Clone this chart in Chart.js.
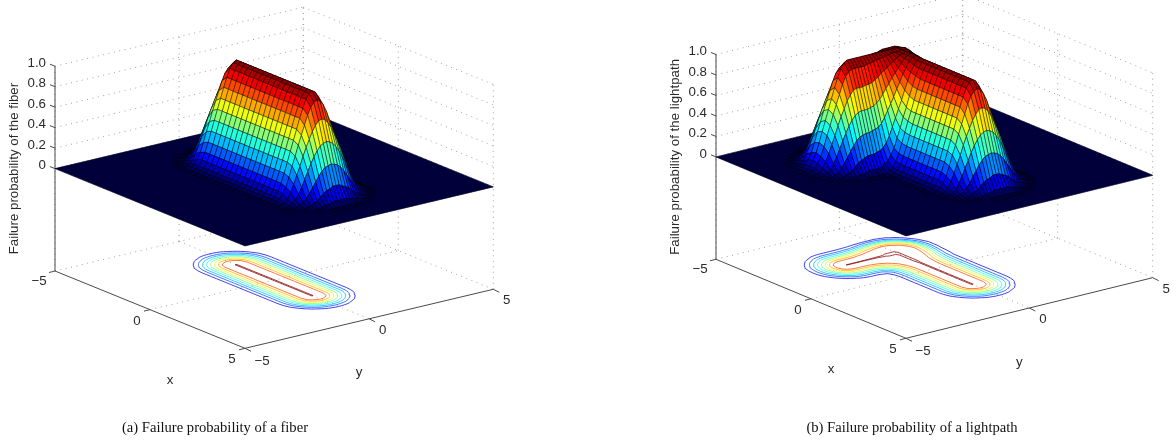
<!DOCTYPE html>
<html>
<head>
<meta charset="utf-8">
<title>Failure probability</title>
<script src="https://cdn.jsdelivr.net/npm/chart.js@4"></script>
<style>
    body { margin: 0; background: #fff; width: 1176px; height: 447px; overflow: hidden; position: relative; }
    canvas { position: absolute; top: 0; }
    #fiberChart { left: 0; }
    #lightpathChart { left: 588px; }
</style>
</head>
<body>
<canvas id="fiberChart" width="588" height="447"></canvas>
<canvas id="lightpathChart" width="588" height="447"></canvas>
<script>
// axis ticks
const xTicks = [-5, 0, 5];
const yTicks = [-5, 0, 5];
const zTicks = [0, 0.2, 0.4, 0.6, 0.8, 1];
const xTickLabels = ['\u22125', '0', '5'];
const yTickLabels = ['\u22125', '0', '5'];
const zTickLabels = ['0', '0.2', '0.4', '0.6', '0.8', '1.0'];
const contourLevels = [0.1, 0.2, 0.3, 0.4, 0.5, 0.6, 0.7, 0.8, 0.995];

// surface columns, the surface is flat at 0 outside the tables below
const gridX = [-3.75, -3.5, -3.25, -3, -2.75, -2.5, -2.25, -2, -1.75, -1.5, -1.25, -1, -0.75, -0.5, -0.25, 0, 0.25, 0.5, 0.75, 1, 1.25, 1.5, 1.75, 2, 2.25, 2.5, 2.75, 3, 3.25, 3.5, 3.75];

// fiber: failure probability in percent, one row per y, first row y = -1.75
const fiberY = [-1.75, -1.625, -1.5, -1.375, -1.25, -1.125, -1, -0.875, -0.75, -0.625, -0.5, -0.375, -0.25, -0.125, 0, 0.125, 0.25, 0.375, 0.5, 0.625, 0.75, 0.875, 1, 1.125, 1.25, 1.375, 1.5, 1.625, 1.75];
const fiberZ = [
    [0,0,0,0,0,1,1,1,1,1,1,1,1,1,1,1,1,1,1,1,1,1,1,1,1,1,0,0,0,0,0],
    [0,0,0,0,1,2,3,3,3,3,3,3,3,3,3,3,3,3,3,3,3,3,3,3,3,2,1,0,0,0,0],
    [0,0,0,1,2,3,5,5,5,5,5,5,5,5,5,5,5,5,5,5,5,5,5,5,5,3,2,1,0,0,0],
    [0,0,0,2,4,6,9,10,10,10,10,10,10,10,10,10,10,10,10,10,10,10,10,10,9,6,4,2,0,0,0],
    [0,0,1,3,6,12,15,17,17,17,17,17,17,17,17,17,17,17,17,17,17,17,17,17,15,12,6,3,1,0,0],
    [0,0,2,5,11,19,24,26,26,26,26,26,26,26,26,26,26,26,26,26,26,26,26,26,24,19,11,5,2,0,0],
    [0,1,3,8,17,27,34,36,36,36,36,36,36,36,36,36,36,36,36,36,36,36,36,36,34,27,17,8,3,1,0],
    [0,1,5,12,24,35,43,46,46,46,46,46,46,46,46,46,46,46,46,46,46,46,46,46,43,35,24,12,5,1,0],
    [0,2,6,17,31,44,53,56,56,56,56,56,56,56,56,56,56,56,56,56,56,56,56,56,53,44,31,17,6,2,0],
    [0,3,9,22,38,52,62,66,66,66,66,66,66,66,66,66,66,66,66,66,66,66,66,66,62,52,38,22,9,3,0],
    [1,3,12,27,44,59,71,76,76,76,76,76,76,76,76,76,76,76,76,76,76,76,76,76,71,59,44,27,12,3,1],
    [1,4,14,31,49,66,80,85,85,85,85,85,85,85,85,85,85,85,85,85,85,85,85,85,80,66,49,31,14,4,1],
    [1,5,15,34,53,71,87,93,93,93,93,93,93,93,93,93,93,93,93,93,93,93,93,93,87,71,53,34,15,5,1],
    [1,5,17,35,55,75,91,98,98,98,98,98,98,98,98,98,98,98,98,98,98,98,98,98,91,75,55,35,17,5,1],
    [1,5,17,36,56,76,93,100,100,100,100,100,100,100,100,100,100,100,100,100,100,100,100,100,93,76,56,36,17,5,1],
    [1,5,17,35,55,75,91,98,98,98,98,98,98,98,98,98,98,98,98,98,98,98,98,98,91,75,55,35,17,5,1],
    [1,5,15,34,53,71,87,93,93,93,93,93,93,93,93,93,93,93,93,93,93,93,93,93,87,71,53,34,15,5,1],
    [1,4,14,31,49,66,80,85,85,85,85,85,85,85,85,85,85,85,85,85,85,85,85,85,80,66,49,31,14,4,1],
    [1,3,12,27,44,59,71,76,76,76,76,76,76,76,76,76,76,76,76,76,76,76,76,76,71,59,44,27,12,3,1],
    [0,3,9,22,38,52,62,66,66,66,66,66,66,66,66,66,66,66,66,66,66,66,66,66,62,52,38,22,9,3,0],
    [0,2,6,17,31,44,53,56,56,56,56,56,56,56,56,56,56,56,56,56,56,56,56,56,53,44,31,17,6,2,0],
    [0,1,5,12,24,35,43,46,46,46,46,46,46,46,46,46,46,46,46,46,46,46,46,46,43,35,24,12,5,1,0],
    [0,1,3,8,17,27,34,36,36,36,36,36,36,36,36,36,36,36,36,36,36,36,36,36,34,27,17,8,3,1,0],
    [0,0,2,5,11,19,24,26,26,26,26,26,26,26,26,26,26,26,26,26,26,26,26,26,24,19,11,5,2,0,0],
    [0,0,1,3,6,12,15,17,17,17,17,17,17,17,17,17,17,17,17,17,17,17,17,17,15,12,6,3,1,0,0],
    [0,0,0,2,4,6,9,10,10,10,10,10,10,10,10,10,10,10,10,10,10,10,10,10,9,6,4,2,0,0,0],
    [0,0,0,1,2,3,5,5,5,5,5,5,5,5,5,5,5,5,5,5,5,5,5,5,5,3,2,1,0,0,0],
    [0,0,0,0,1,2,3,3,3,3,3,3,3,3,3,3,3,3,3,3,3,3,3,3,3,2,1,0,0,0,0],
    [0,0,0,0,0,1,1,1,1,1,1,1,1,1,1,1,1,1,1,1,1,1,1,1,1,1,0,0,0,0,0]
];

// lightpath: failure probability in percent, one row per y, first row y = -3.75
const lightpathY = [-3.75, -3.625, -3.5, -3.375, -3.25, -3.125, -3, -2.875, -2.75, -2.625, -2.5, -2.375, -2.25, -2.125, -2, -1.875, -1.75, -1.625, -1.5, -1.375, -1.25, -1.125, -1, -0.875, -0.75, -0.625, -0.5, -0.375, -0.25, -0.125, 0, 0.125, 0.25, 0.375, 0.5, 0.625, 0.75, 0.875, 1, 1.125, 1.25, 1.375, 1.5, 1.625, 1.75];
const lightpathZ = [
    [0,0,0,0,0,1,1,1,1,1,0,0,0,0,0,0,0,0,0,0,0,0,0,0,0,0,0,0,0,0,0],
    [0,0,0,0,1,2,3,3,3,2,1,0,0,0,0,0,0,0,0,0,0,0,0,0,0,0,0,0,0,0,0],
    [0,0,0,1,2,3,5,5,5,3,2,1,0,0,0,0,0,0,0,0,0,0,0,0,0,0,0,0,0,0,0],
    [0,0,0,2,4,6,9,10,9,6,4,2,0,0,0,0,0,0,0,0,0,0,0,0,0,0,0,0,0,0,0],
    [0,0,1,3,6,12,15,17,15,12,6,3,1,0,0,0,0,0,0,0,0,0,0,0,0,0,0,0,0,0,0],
    [0,0,2,5,11,19,24,26,24,19,11,5,2,0,0,0,0,0,0,0,0,0,0,0,0,0,0,0,0,0,0],
    [0,1,3,8,17,27,34,36,34,27,17,8,3,1,0,0,0,0,0,0,0,0,0,0,0,0,0,0,0,0,0],
    [0,1,5,12,24,35,43,46,43,35,24,12,5,1,0,0,0,0,0,0,0,0,0,0,0,0,0,0,0,0,0],
    [0,2,6,17,31,44,53,56,53,44,31,17,6,2,0,0,0,0,0,0,0,0,0,0,0,0,0,0,0,0,0],
    [0,3,9,22,38,52,62,66,62,52,38,22,9,3,0,0,0,0,0,0,0,0,0,0,0,0,0,0,0,0,0],
    [1,3,12,27,44,59,71,76,71,59,44,27,12,3,1,0,0,0,0,0,0,0,0,0,0,0,0,0,0,0,0],
    [1,4,14,31,49,66,80,85,80,66,49,31,14,4,1,0,0,0,0,0,0,0,0,0,0,0,0,0,0,0,0],
    [1,5,15,34,53,71,87,93,87,71,53,34,15,5,1,0,0,0,0,0,0,0,0,0,0,0,0,0,0,0,0],
    [1,5,17,35,55,75,91,98,91,75,55,35,17,5,1,0,0,0,0,0,0,0,0,0,0,0,0,0,0,0,0],
    [1,5,17,36,56,76,93,100,93,76,56,36,17,5,1,0,0,0,0,0,0,0,0,0,0,0,0,0,0,0,0],
    [1,5,17,36,56,76,93,100,93,76,56,36,17,5,1,0,0,0,0,0,0,0,0,0,0,0,0,0,0,0,0],
    [1,5,17,36,56,76,93,100,93,76,56,37,18,6,2,1,1,1,1,1,1,1,1,1,1,1,0,0,0,0,0],
    [1,5,17,36,56,77,93,100,93,77,57,38,19,8,4,3,3,3,3,3,3,3,3,3,3,2,1,0,0,0,0],
    [1,5,17,37,57,77,93,100,93,77,58,39,21,10,6,5,5,5,5,5,5,5,5,5,5,3,2,1,0,0,0],
    [1,5,17,37,58,77,94,100,94,78,60,42,25,15,11,10,10,10,10,10,10,10,10,10,9,6,4,2,0,0,0],
    [1,5,18,38,59,79,94,100,94,80,63,47,31,21,18,17,17,17,17,17,17,17,17,17,15,12,6,3,1,0,0],
    [1,5,19,39,61,81,95,100,95,82,67,53,39,30,27,26,26,26,26,26,26,26,26,26,24,19,11,5,2,0,0],
    [1,6,19,41,63,82,95,100,96,85,72,59,47,39,37,36,36,36,36,36,36,36,36,36,34,27,17,8,3,1,0],
    [1,6,21,44,67,84,96,100,96,87,76,65,55,49,47,46,46,46,46,46,46,46,46,46,43,35,24,12,5,1,0],
    [1,7,22,47,70,87,97,100,97,89,81,72,63,58,56,56,56,56,56,56,56,56,56,56,53,44,31,17,6,2,0],
    [1,8,24,50,73,88,97,100,98,92,85,78,72,68,66,66,66,66,66,66,66,66,66,66,62,52,38,22,9,3,0],
    [2,8,27,53,75,90,98,100,98,94,89,85,80,77,76,76,76,76,76,76,76,76,76,76,71,59,44,27,12,3,1],
    [2,9,29,56,78,92,99,100,99,96,93,90,88,86,85,85,85,85,85,85,85,85,85,85,80,66,49,31,14,4,1],
    [2,10,29,58,79,93,99,100,99,98,97,96,94,93,93,93,93,93,93,93,93,93,93,93,87,71,53,34,15,5,1],
    [2,10,31,58,80,94,99,100,99,99,99,99,98,98,98,98,98,98,98,98,98,98,98,98,91,75,55,35,17,5,1],
    [2,10,31,59,81,94,99,100,100,100,100,100,100,100,100,100,100,100,100,100,100,100,100,100,93,76,56,36,17,5,1],
    [2,10,31,58,80,94,99,99,99,99,99,99,98,98,98,98,98,98,98,98,98,98,98,98,91,75,55,35,17,5,1],
    [2,10,28,56,78,92,98,99,99,98,97,95,94,93,93,93,93,93,93,93,93,93,93,93,87,71,53,34,15,5,1],
    [2,8,26,52,74,88,96,98,97,95,92,90,87,86,85,85,85,85,85,85,85,85,85,85,80,66,49,31,14,4,1],
    [2,6,23,47,69,83,92,94,93,90,87,82,79,77,76,76,76,76,76,76,76,76,76,76,71,59,44,27,12,3,1],
    [0,6,17,39,62,77,86,88,87,84,79,73,69,67,66,66,66,66,66,66,66,66,66,66,62,52,38,22,9,3,0],
    [0,4,12,31,52,69,78,81,79,75,70,63,59,57,56,56,56,56,56,56,56,56,56,56,53,44,31,17,6,2,0],
    [0,2,10,23,42,58,68,71,69,65,59,52,49,47,46,46,46,46,46,46,46,46,46,46,43,35,24,12,5,1,0],
    [0,2,6,15,31,47,56,59,58,53,47,41,38,37,36,36,36,36,36,36,36,36,36,36,34,27,17,8,3,1,0],
    [0,0,4,10,21,34,42,45,44,40,34,30,27,26,26,26,26,26,26,26,26,26,26,26,24,19,11,5,2,0,0],
    [0,0,2,6,12,23,28,31,29,27,22,19,18,17,17,17,17,17,17,17,17,17,17,17,15,12,6,3,1,0,0],
    [0,0,0,4,8,12,17,19,18,15,14,12,10,10,10,10,10,10,10,10,10,10,10,10,9,6,4,2,0,0,0],
    [0,0,0,2,4,6,10,10,10,8,7,6,5,5,5,5,5,5,5,5,5,5,5,5,5,3,2,1,0,0,0],
    [0,0,0,0,2,4,6,6,6,5,4,3,3,3,3,3,3,3,3,3,3,3,3,3,3,2,1,0,0,0,0],
    [0,0,0,0,0,2,2,2,2,2,1,1,1,1,1,1,1,1,1,1,1,1,1,1,1,1,0,0,0,0,0]
];

const AXIS_COLOR = '#4a4a4a';
const TEXT_COLOR = '#2a2a2a';
const TICK_FONT = '13.3px "Liberation Sans"';
const CAPTION_FONT = '14.6px "Liberation Serif"';

// jet colormap, v in 0..1
function jet(v) {
    const ch = t => Math.round(255 * Math.max(0, Math.min(1, 1.5 - Math.abs(t))));
    return `rgb(${ch(4 * v - 3)},${ch(4 * v - 2)},${ch(4 * v - 1)})`;
}

// the fine mesh makes the foot of the hill read almost as dark as the plane
function cellColor(v) {
    if (v >= 0.12) return jet(v);
    return `rgb(0,0,${Math.round(60 + 190 * v / 0.12)})`;
}

class SurfacePanel {
    constructor(cfg) {
        this.cfg = cfg;
        this.stepX = gridX[1] - gridX[0];
        this.stepY = cfg.y[1] - cfg.y[0];
        this.datasets = [];
    }

    // data space to picture space, z = -1 is the floor of the box
    project(x, y, z) {
        const { origin, ex, ey, zUnit } = this.cfg;
        return {
            x: origin.x + (x + 5) * ex.x + (y + 5) * ey.x,
            y: origin.y + (x + 5) * ex.y + (y + 5) * ey.y - (z + 1) * zUnit
        };
    }

    line(points, style) {
        this.datasets.push(Object.assign({
            data: points, showLine: true, pointRadius: 0, tension: 0, fill: false
        }, style));
    }

    // height at grid corner, 0 outside the table
    height(i, j) {
        const row = this.cfg.z[j];
        if (!row || row[i] === undefined) return 0;
        return row[i] / 100;
    }

    cornerX(i) { return gridX[0] + i * this.stepX; }
    cornerY(j) { return this.cfg.y[0] + j * this.stepY; }

    addGrid() {
        const dotted = { borderColor: '#a0a0a0', borderWidth: 1, borderDash: [1, 4.5] };
        const pts = [];
        const seg = (a, b) => pts.push(this.project(...a), this.project(...b), { x: NaN, y: NaN });
        const levels = [-1].concat(zTicks);
        levels.forEach(z => {
            seg([-5, -5, z], [-5, 5, z]);
            seg([-5, 5, z], [5, 5, z]);
        });
        yTicks.forEach(y => seg([-5, y, -1], [-5, y, 1]));
        xTicks.forEach(x => seg([x, 5, -1], [x, 5, 1]));
        seg([0, -5, -1], [0, 5, -1]);
        seg([-5, 0, -1], [5, 0, -1]);
        this.line(pts, dotted);
    }

    addAxes() {
        const solid = { borderColor: AXIS_COLOR, borderWidth: 1 };
        this.line([this.project(-5, -5, -1), this.project(-5, -5, 1)], solid);
        this.line([this.project(-5, -5, -1), this.project(5, -5, -1)], solid);
        this.line([this.project(5, -5, -1), this.project(5, 5, -1)], solid);
        const marks = [];
        const tick = (p, dx, dy) => marks.push(p, { x: p.x + dx, y: p.y + dy }, { x: NaN, y: NaN });
        zTicks.forEach(z => tick(this.project(-5, -5, z), -5, -2));
        xTicks.forEach(x => tick(this.project(x, -5, -1), -6, 1.5));
        yTicks.forEach(y => tick(this.project(5, y, -1), 6, 3));
        this.line(marks, solid);
    }

    // contour lines on the floor, taken from the same table as the surface
    addContours() {
        const n = gridX.length, m = this.cfg.y.length;
        contourLevels.forEach(level => {
            const pts = [];
            for (let i = -1; i < n; i++) {
                for (let j = -1; j < m; j++) {
                    const c = [[i, j], [i + 1, j], [i + 1, j + 1], [i, j + 1]];
                    const hits = [];
                    for (let k = 0; k < 4; k++) {
                        const a = c[k], b = c[(k + 1) % 4];
                        const za = this.height(a[0], a[1]), zb = this.height(b[0], b[1]);
                        if ((za >= level) === (zb >= level)) continue;
                        const t = (level - za) / (zb - za);
                        const x = this.cornerX(a[0] + t * (b[0] - a[0]));
                        const y = this.cornerY(a[1] + t * (b[1] - a[1]));
                        hits.push(this.project(x, y, -1));
                    }
                    for (let k = 0; k + 1 < hits.length; k += 2) {
                        pts.push(hits[k], hits[k + 1], { x: NaN, y: NaN });
                    }
                }
            }
            this.line(pts, { borderColor: jet(level), borderWidth: 0.75 });
        });
    }

    addSurface() {
        const n = gridX.length, m = this.cfg.y.length;
        // flat part of the plane at z = 0
        const plane = [[-5, -5], [5, -5], [5, 5], [-5, 5], [-5, -5]].map(p => this.project(p[0], p[1], 0));
        this.line(plane, { backgroundColor: '#00004a', borderColor: '#00002c', borderWidth: 0.5, fill: 'shape' });
        const mesh = [];
        for (let v = -5; v <= 5; v += this.stepX) {
            mesh.push(this.project(v, -5, 0), this.project(v, 5, 0), { x: NaN, y: NaN });
        }
        for (let v = -5; v <= 5; v += this.stepY) {
            mesh.push(this.project(-5, v, 0), this.project(5, v, 0), { x: NaN, y: NaN });
        }
        this.line(mesh, { borderColor: 'rgba(0,0,0,0.45)', borderWidth: 0.6 });

        // far cells first so the near ones paint over them
        for (let i = -1; i < n; i++) {
            for (let j = m - 1; j >= -1; j--) {
                const c = [[i, j], [i + 1, j], [i + 1, j + 1], [i, j + 1], [i, j]];
                const zs = c.slice(0, 4).map(p => this.height(p[0], p[1]));
                const sum = zs.reduce((s, v) => s + v, 0);
                if (sum === 0) continue;
                const pts = c.map(p => this.project(this.cornerX(p[0]), this.cornerY(p[1]), this.height(p[0], p[1])));
                this.line(pts, {
                    backgroundColor: cellColor(sum / 4),
                    borderColor: 'rgba(0,0,0,0.62)',
                    borderWidth: 0.7,
                    borderJoinStyle: 'round',
                    fill: 'shape'
                });
            }
        }
    }

    // axis texts
    labelsPlugin() {
        const panel = this;
        const cfg = this.cfg;
        return {
            id: 'panelLabels',
            afterDraw(chart) {
                const ctx = chart.ctx;
                const sx = chart.scales.x, sy = chart.scales.y;
                const put = (text, p, dx, dy, font, align) => {
                    ctx.font = font;
                    ctx.textAlign = align || 'center';
                    ctx.fillText(text, sx.getPixelForValue(p.x + dx), sy.getPixelForValue(p.y + dy));
                };
                ctx.save();
                ctx.fillStyle = TEXT_COLOR;
                ctx.textBaseline = 'middle';
                zTicks.forEach((z, k) => put(zTickLabels[k], panel.project(-5, -5, z), -9, -3, TICK_FONT, 'right'));
                xTicks.forEach((x, k) => put(xTickLabels[k], panel.project(x, -5, -1), x < 0 ? -16 : -13, x < 0 ? 10 : 11.5, TICK_FONT));
                yTicks.forEach((y, k) => put(yTickLabels[k], panel.project(5, y, -1), y < 0 ? 17 : 13.5, y < 0 ? 13 : 11.5, TICK_FONT));
                put('x', panel.project(0, -5, -1), 20, 71, TICK_FONT);
                put('y', panel.project(5, 0, -1), -10, 54, TICK_FONT);

                const zc = panel.project(-5, -5, 0);
                ctx.save();
                ctx.translate(sx.getPixelForValue(zc.x - 41), sy.getPixelForValue(zc.y));
                ctx.rotate(-Math.PI / 2);
                ctx.font = TICK_FONT;
                ctx.textAlign = 'center';
                ctx.fillText(cfg.zTitle, 0, 0);
                ctx.restore();

                ctx.fillStyle = '#111';
                put(cfg.caption, cfg.captionAt, 0, 0, CAPTION_FONT);
                ctx.restore();
            }
        };
    }

    render() {
        this.addGrid();
        this.addContours();
        this.addAxes();
        this.addSurface();
        // Chart.js paints the first dataset last
        this.datasets.reverse();
        const ctx = document.getElementById(this.cfg.canvas);
        return new Chart(ctx, {
            type: 'scatter',
            data: { datasets: this.datasets },
            plugins: [this.labelsPlugin()],
            options: {
                responsive: false,
                animation: false,
                devicePixelRatio: 1,
                layout: { padding: 0 },
                events: [],
                plugins: { legend: { display: false }, tooltip: { enabled: false }, title: { display: false } },
                scales: {
                    x: { type: 'linear', display: false, min: this.cfg.left, max: this.cfg.left + 588 },
                    y: { type: 'linear', display: false, min: 0, max: 447, reverse: true }
                }
            }
        });
    }
}

new SurfacePanel({
    canvas: 'fiberChart', left: 0, z: fiberZ, y: fiberY,
    origin: { x: 55, y: 271 }, ex: { x: 19, y: 7.73 }, ey: { x: 24.83, y: -5.9 }, zUnit: 102.4,
    zTitle: 'Failure probability of the fiber',
    caption: '(a) Failure probability of a fiber', captionAt: { x: 215, y: 428 }
}).render();

new SurfacePanel({
    canvas: 'lightpathChart', left: 588, z: lightpathZ, y: lightpathY,
    origin: { x: 716, y: 259.3 }, ex: { x: 19, y: 7.9 }, ey: { x: 24.67, y: -6.06 }, zUnit: 102.4,
    zTitle: 'Failure probability of the lightpath',
    caption: '(b) Failure probability of a lightpath', captionAt: { x: 912, y: 428 }
}).render();
</script>
</body>
</html>
